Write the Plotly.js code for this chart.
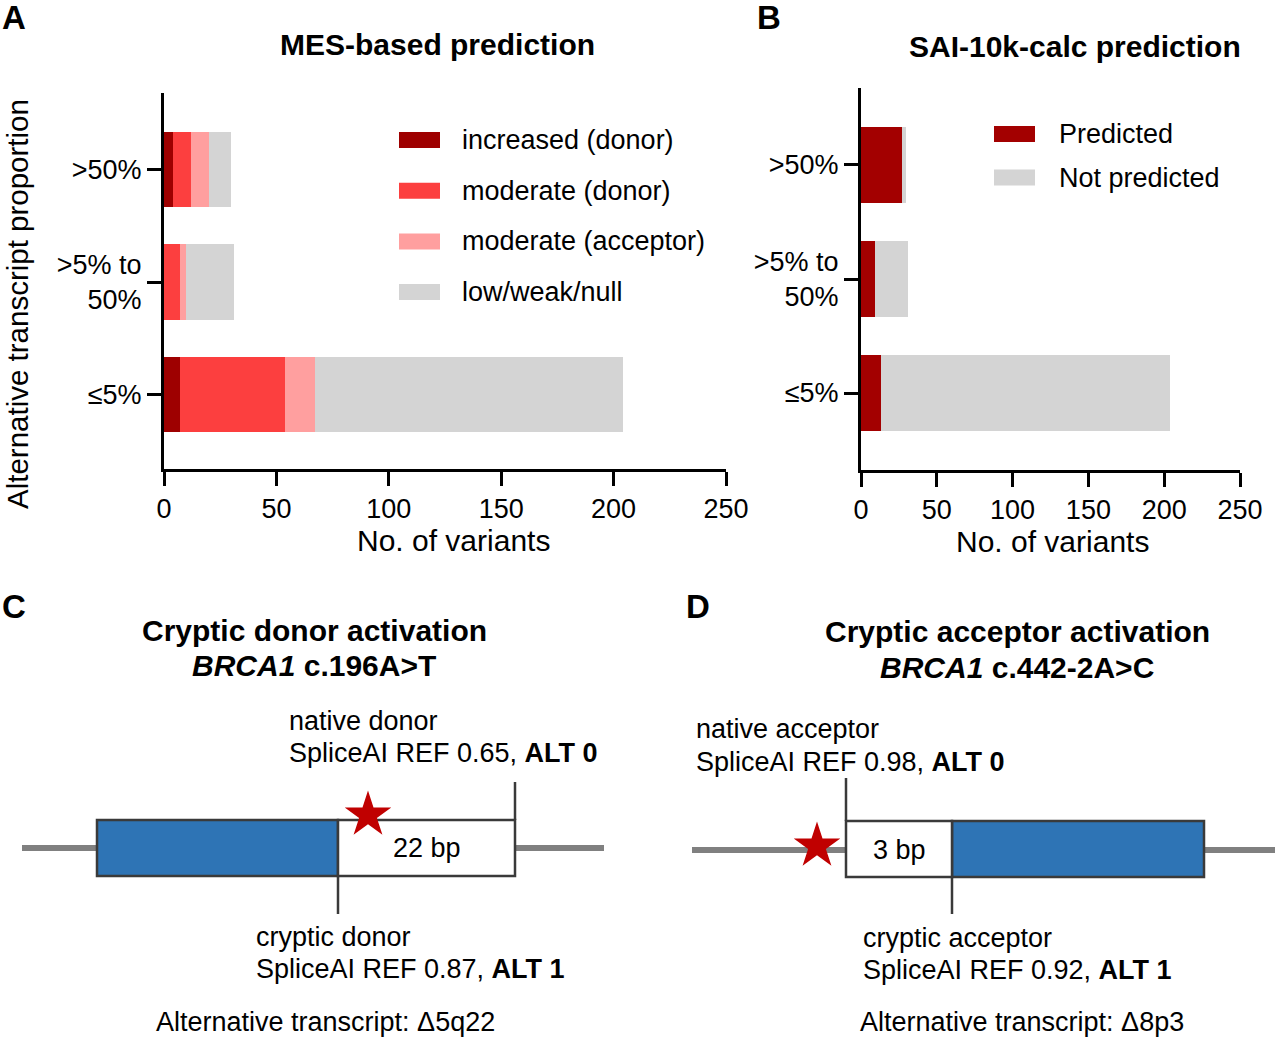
<!DOCTYPE html>
<html>
<head>
<meta charset="utf-8">
<script src="https://cdn.plot.ly/plotly-3.0.1.min.js"></script>
<style>
  html, body { margin: 0; padding: 0; background: #ffffff; }
  #fig { width: 1280px; height: 1041px; }
</style>
</head>
<body>
<div id="fig"></div>
<script>
// ---- Data: alternative transcript proportion categories (top to bottom) ----
const categories = ['>50%', '>5% to<br>50%', '≤5%'];

// Panel A: MES-based prediction, number of variants per category
const mesNames = ['increased (donor)', 'moderate (donor)', 'moderate (acceptor)', 'low/weak/null'];
const mesIncreasedDonor   = [4, 0, 7];
const mesModerateDonor    = [8, 7, 47];
const mesModerateAcceptor = [8, 3, 13];
const mesLowWeakNull      = [10, 21, 137];

// Panel B: SAI-10k-calc prediction, number of variants per category
const saiNames = ['Predicted', 'Not predicted'];
const saiPredicted    = [27, 9, 13];
const saiNotPredicted = [3, 22, 191];

const xTickValues = [0, 50, 100, 150, 200, 250];

// ---- Styling ----
const W = 1280, H = 1041;
const FONT = 'Liberation Sans, Arial, Helvetica, sans-serif';
const mesColors = ['#9e0000', '#fc3f3f', '#ff9f9f', '#d4d4d4'];
const saiColors = ['#a30000', '#d4d4d4'];
const exonBlue = '#2e74b5';
const edge = '#3a3a3a';
const intron = '#808080';
const starRed = '#c00000';

const px = x => x / W;
const py = y => 1 - y / H;

// bottom-to-top order for the category axis
const catOrder = categories.slice().reverse();

const mesSeries = [mesIncreasedDonor, mesModerateDonor, mesModerateAcceptor, mesLowWeakNull];
const saiSeries = [saiPredicted, saiNotPredicted];

const traces = [];
mesSeries.forEach((vals, i) => {
  traces.push({
    type: 'bar', orientation: 'h', name: mesNames[i],
    x: vals, y: categories, xaxis: 'x', yaxis: 'y',
    marker: { color: mesColors[i], line: { width: 0 } },
    showlegend: false, hoverinfo: 'skip'
  });
});
saiSeries.forEach((vals, i) => {
  traces.push({
    type: 'bar', orientation: 'h', name: saiNames[i],
    x: vals, y: categories, xaxis: 'x2', yaxis: 'y2',
    marker: { color: saiColors[i], line: { width: 0 } },
    showlegend: false, hoverinfo: 'skip'
  });
});

// ---- Schematics (panels C and D) on a hidden full-page axis pair ----
const donorPanel = {
  intronLeft: [22, 97], intronRight: [515, 604], midY: 848,
  boxTop: 820, boxBottom: 876,
  exon: [97, 338], extension: [338, 515],
  nativeSite: 515, nativeLine: [782, 820],
  crypticSite: 338, crypticLine: [876, 914],
  star: [368, 815], extLabel: '22 bp', extLabelX: 427
};
const acceptorPanel = {
  intronLeft: [692, 846], intronRight: [1204, 1275], midY: 850,
  boxTop: 821, boxBottom: 877,
  exon: [952, 1204], extension: [846, 952],
  nativeSite: 846, nativeLine: [778, 821],
  crypticSite: 952, crypticLine: [877, 914],
  star: [817, 846], extLabel: '3 bp', extLabelX: 899
};

const shapes = [];
const annotations = [];

function schematic(p) {
  const ref = { xref: 'x3', yref: 'y3', layer: 'below' };
  shapes.push(Object.assign({ type: 'line', x0: p.intronLeft[0], x1: p.intronLeft[1], y0: p.midY, y1: p.midY,
    line: { color: intron, width: 6 } }, ref));
  shapes.push(Object.assign({ type: 'line', x0: p.intronRight[0], x1: p.intronRight[1], y0: p.midY, y1: p.midY,
    line: { color: intron, width: 6 } }, ref));
  shapes.push(Object.assign({ type: 'rect', x0: p.exon[0], x1: p.exon[1], y0: p.boxTop, y1: p.boxBottom,
    fillcolor: exonBlue, line: { color: edge, width: 2.5 } }, ref));
  shapes.push(Object.assign({ type: 'rect', x0: p.extension[0], x1: p.extension[1], y0: p.boxTop, y1: p.boxBottom,
    fillcolor: '#ffffff', line: { color: edge, width: 2.5 } }, ref));
  shapes.push(Object.assign({ type: 'line', x0: p.nativeSite, x1: p.nativeSite, y0: p.nativeLine[0], y1: p.nativeLine[1],
    line: { color: edge, width: 2.5 } }, ref));
  shapes.push(Object.assign({ type: 'line', x0: p.crypticSite, x1: p.crypticSite, y0: p.crypticLine[0], y1: p.crypticLine[1],
    line: { color: edge, width: 2.5 } }, ref));
  annotations.push({ xref: 'x3', yref: 'y3', x: p.extLabelX, y: p.midY, text: p.extLabel,
    showarrow: false, xanchor: 'center', yanchor: 'middle', font: { size: 27, color: '#000' } });
  traces.push({
    type: 'scatter', mode: 'markers', x: [p.star[0]], y: [p.star[1]], xaxis: 'x3', yaxis: 'y3',
    marker: { symbol: 'star', size: 35, color: starRed, line: { width: 0 } },
    showlegend: false, hoverinfo: 'skip'
  });
}
schematic(donorPanel);
schematic(acceptorPanel);

// ---- Text ----
function txt(x, y, text, size, opts) {
  annotations.push(Object.assign({
    xref: 'paper', yref: 'paper', x: px(x), y: py(y), text: text, showarrow: false,
    xanchor: 'left', yanchor: 'middle', font: { size: size, color: '#000', family: FONT }
  }, opts || {}));
}

// panel letters
txt(0, 18, '<b>A</b>', 33);
txt(755, 18, '<b>B</b>', 33);
txt(0, 606, '<b>C</b>', 33);
txt(684, 606, '<b>D</b>', 33);

// chart titles
txt(437, 45, '<b>MES-based prediction</b>', 30, { xanchor: 'center' });
txt(1075, 46, '<b>SAI-10k-calc prediction</b>', 30, { xanchor: 'center' });

// y-axis title of panel A
txt(18, 304, 'Alternative transcript proportion', 29.5, { xanchor: 'center', textangle: -90 });

// x-axis titles
txt(453, 540, 'No. of variants', 30, { xanchor: 'center' });
txt(1052, 541, 'No. of variants', 30, { xanchor: 'center' });

// legends
mesNames.forEach((n, i) => {
  const cy = 140 + i * 50.7;
  shapes.push({ type: 'rect', xref: 'paper', yref: 'paper', x0: px(399), x1: px(440), y0: py(cy - 8), y1: py(cy + 8),
    fillcolor: mesColors[i], line: { width: 0 } });
  txt(460, cy, n, 27);
});
saiNames.forEach((n, i) => {
  const cy = 134 + i * 43.5;
  shapes.push({ type: 'rect', xref: 'paper', yref: 'paper', x0: px(994), x1: px(1035), y0: py(cy - 8), y1: py(cy + 8),
    fillcolor: saiColors[i], line: { width: 0 } });
  txt(1057, cy, n, 27);
});

// panel C text
txt(314, 630, '<b>Cryptic donor activation</b>', 30, { xanchor: 'center' });
txt(314, 665, '<b><i>BRCA1</i> c.196A&gt;T</b>', 30, { xanchor: 'center' });
txt(287, 721, 'native donor', 27);
txt(287, 753, 'SpliceAI REF 0.65, <b>ALT 0</b>', 27);
txt(254, 937, 'cryptic donor', 27);
txt(254, 969, 'SpliceAI REF 0.87, <b>ALT 1</b>', 27);
txt(154, 1022, 'Alternative transcript: Δ5q22', 27);

// panel D text
txt(1017, 631, '<b>Cryptic acceptor activation</b>', 30, { xanchor: 'center' });
txt(1017, 667, '<b><i>BRCA1</i> c.442-2A&gt;C</b>', 30, { xanchor: 'center' });
txt(694, 729, 'native acceptor', 27);
txt(694, 762, 'SpliceAI REF 0.98, <b>ALT 0</b>', 27);
txt(861, 938, 'cryptic acceptor', 27);
txt(861, 970, 'SpliceAI REF 0.92, <b>ALT 1</b>', 27);
txt(858, 1022, 'Alternative transcript: Δ8p3', 27);

// ---- Axes ----
const xCommon = {
  range: [0, 250], tickvals: xTickValues, ticks: 'outside', ticklen: 14, tickwidth: 3, tickcolor: '#000',
  showline: true, linewidth: 3, linecolor: '#000', showgrid: false, zeroline: false,
  tickfont: { size: 27, color: '#000' }, fixedrange: true
};
const yCommon = {
  type: 'category', categoryorder: 'array', categoryarray: catOrder,
  ticks: 'outside', ticklen: 14, tickwidth: 3, tickcolor: '#000',
  showline: true, linewidth: 3, linecolor: '#000', showgrid: false, zeroline: false,
  tickfont: { size: 27, color: '#000' }, fixedrange: true
};

const layout = {
  width: W, height: H,
  margin: { l: 0, r: 0, t: 0, b: 0 },
  paper_bgcolor: '#ffffff', plot_bgcolor: 'rgba(0,0,0,0)',
  font: { family: FONT, color: '#000' },
  barmode: 'stack', bargap: 0.333,
  showlegend: false,
  xaxis: Object.assign({}, xCommon, { domain: [px(164), px(726)], anchor: 'y' }),
  yaxis: Object.assign({}, yCommon, { domain: [py(469), py(93)], anchor: 'x', range: [-0.662, 2.68] }),
  xaxis2: Object.assign({}, xCommon, { domain: [px(861), px(1240)], anchor: 'y2' }),
  yaxis2: Object.assign({}, yCommon, { domain: [py(470), py(88)], anchor: 'x2', range: [-0.675, 2.675] }),
  xaxis3: { domain: [0, 1], range: [0, W], visible: false, fixedrange: true, anchor: 'y3' },
  yaxis3: { domain: [0, 1], range: [H, 0], visible: false, fixedrange: true, anchor: 'x3' },
  shapes: shapes,
  annotations: annotations
};

Plotly.newPlot('fig', traces, layout, { staticPlot: true, displayModeBar: false });
</script>
</body>
</html>
